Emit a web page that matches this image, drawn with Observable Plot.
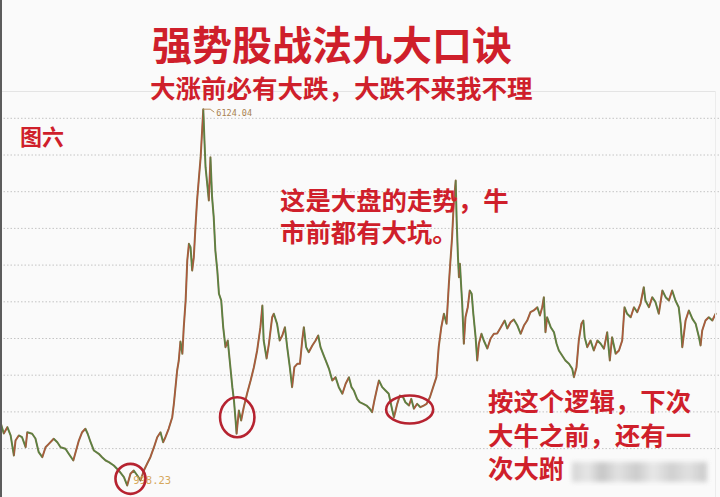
<!DOCTYPE html>
<html><head><meta charset="utf-8">
<script src="https://cdn.jsdelivr.net/npm/d3@7"></script>
<script src="https://cdn.jsdelivr.net/npm/@observablehq/plot@0.6"></script>
<style>
html,body{margin:0;padding:0;background:#fafafa;}
#wrap{position:relative;width:720px;height:497px;overflow:hidden;background:#fafafa;font-family:"Noto Sans CJK SC","Noto Sans",sans-serif;}
#chart{position:absolute;left:0;top:0;}
.t{position:absolute;color:#cf1f2b;font-weight:700;white-space:nowrap;line-height:1;}
#title{left:152px;top:23px;font-size:40px;}
#sub{left:150px;top:74px;font-size:25.5px;}
#fig{left:20px;top:124px;font-size:22px;}
#noteA{left:280px;top:183px;font-size:25.4px;line-height:32px;}
#noteB{left:488px;top:384px;font-size:25.4px;line-height:33.5px;}
#frameTop{position:absolute;left:0;top:91px;width:716px;height:0;border-top:1px solid #e4e4e4;}
#frameRight{position:absolute;left:715px;top:91px;width:0;height:406px;border-left:1px solid #ececec;}
#frameLeft{position:absolute;left:0;top:0;width:2px;height:497px;background:#5c5c5c;}
#wm{position:absolute;left:572px;top:462px;width:135px;height:20px;filter:blur(2.5px);opacity:.85;
 background:linear-gradient(90deg,#cfcfcf 0%,#e3e3e3 12%,#bdbdbd 22%,#dedede 34%,#c4c4c4 48%,#e6e6e6 60%,#c9c9c9 74%,#dddddd 86%,#c2c2c2 100%);}
</style></head><body>
<div id="wrap">
  <div id="chart"></div>
  <div id="frameTop"></div>
  <div id="frameRight"></div>
  <div id="frameLeft"></div>
  <div class="t" id="title">强势股战法九大口诀</div>
  <div class="t" id="sub">大涨前必有大跌，大跌不来我不理</div>
  <div class="t" id="fig">图六</div>
  <div class="t" id="noteA">这是大盘的走势，牛<br>市前都有大坑。</div>
  <div class="t" id="noteB">按这个逻辑，下次<br>大牛之前，还有一<br>次大跗</div>
  <div id="wm"></div>
</div>
<script>
// time (decimal year) and index level
const years = [2001.60,2001.70,2001.81,2001.91,2002.01,2002.06,2002.16,2002.26,2002.37,2002.42,2002.57,2002.67,2002.77,2002.88,2002.98,2003.08,2003.23,2003.34,2003.44,2003.59,2003.69,2003.83,2003.90,2004.00,2004.10,2004.20,2004.27,2004.36,2004.46,2004.61,2004.71,2004.82,2004.92,2005.07,2005.22,2005.38,2005.48,2005.58,2005.68,2005.79,2005.89,2005.99,2006.09,2006.19,2006.30,2006.40,2006.50,2006.58,2006.65,2006.75,2006.86,2006.91,2007.01,2007.06,2007.11,2007.17,2007.21,2007.27,2007.32,2007.37,2007.42,2007.47,2007.52,2007.57,2007.62,2007.67,2007.73,2007.78,2007.81,2007.85,2007.88,2007.93,2007.98,2008.03,2008.08,2008.13,2008.18,2008.24,2008.29,2008.36,2008.42,2008.49,2008.56,2008.64,2008.70,2008.75,2008.80,2008.83,2008.90,2008.97,2009.05,2009.16,2009.26,2009.36,2009.46,2009.56,2009.62,2009.66,2009.75,2009.82,2009.92,2009.97,2010.07,2010.15,2010.23,2010.31,2010.38,2010.46,2010.53,2010.60,2010.69,2010.77,2010.84,2010.89,2010.96,2011.04,2011.15,2011.25,2011.33,2011.40,2011.50,2011.58,2011.66,2011.76,2011.86,2011.96,2012.07,2012.17,2012.27,2012.35,2012.42,2012.52,2012.60,2012.71,2012.81,2012.91,2012.98,2013.05,2013.14,2013.19,2013.29,2013.39,2013.49,2013.60,2013.65,2013.75,2013.83,2013.93,2014.00,2014.11,2014.18,2014.26,2014.36,2014.46,2014.56,2014.65,2014.75,2014.85,2014.95,2015.02,2015.10,2015.18,2015.26,2015.33,2015.38,2015.43,2015.48,2015.54,2015.57,2015.61,2015.64,2015.67,2015.71,2015.74,2015.79,2015.84,2015.91,2015.97,2016.03,2016.08,2016.15,2016.20,2016.25,2016.33,2016.40,2016.51,2016.61,2016.71,2016.81,2016.91,2017.04,2017.12,2017.22,2017.32,2017.43,2017.53,2017.63,2017.73,2017.83,2017.93,2018.04,2018.12,2018.19,2018.24,2018.29,2018.34,2018.45,2018.55,2018.63,2018.70,2018.80,2018.90,2019.01,2019.11,2019.16,2019.24,2019.31,2019.39,2019.45,2019.49,2019.57,2019.67,2019.77,2019.88,2019.98,2020.08,2020.18,2020.26,2020.33,2020.44,2020.54,2020.64,2020.71,2020.79,2020.90,2021.00,2021.10,2021.20,2021.30,2021.35,2021.46,2021.56,2021.66,2021.76,2021.87,2021.97,2022.07,2022.17,2022.27,2022.37,2022.43,2022.48,2022.58,2022.68,2022.79,2022.89,2022.99,2023.04,2023.09,2023.19,2023.29,2023.40,2023.50];
const closes = [1860,1706,1792,1679,1406,1610,1679,1655,1519,1723,1702,1638,1451,1383,1519,1565,1634,1587,1519,1497,1429,1338,1451,1610,1723,1770,1702,1587,1474,1429,1383,1338,1315,1270,1202,1110,998,1157,1202,1134,1065,1202,1293,1383,1519,1655,1723,1587,1655,1770,1928,2114,2564,2700,2959,2792,3136,3518,4063,4290,4244,3926,4108,4516,4880,5153,5470,5879,6124,5653,5334,5108,4880,5470,4925,4653,4199,3926,3609,3518,3154,2882,2973,2609,2337,2155,1883,1702,2019,1883,2064,2264,2428,2609,2837,3154,3450,2973,2728,2928,3290,3337,3200,2973,3041,3154,2882,2609,2337,2609,2655,2655,2973,3154,2882,2813,2905,2973,3041,2882,2768,2677,2587,2428,2473,2337,2247,2383,2473,2337,2292,2178,2132,2110,2087,2042,1996,2155,2337,2428,2337,2292,2247,2019,1928,2110,2223,2200,2132,2087,2178,2042,2110,2064,2087,2110,2200,2337,2473,2882,3154,3337,3200,3736,4063,4380,4835,5153,4608,4108,3835,4018,3699,3473,2928,3290,3426,3654,3609,3337,3018,2700,2928,3064,2973,2864,3000,3064,3068,3143,3245,3136,3222,3259,3177,3064,3177,3245,3358,3382,3426,3313,3426,3563,3086,3290,3154,3086,2928,2837,2768,2700,2655,2587,2473,2609,2973,3200,3245,3018,2882,2973,2837,2973,2928,2860,3086,2700,3018,2792,2837,2973,3426,3337,3290,3426,3358,3473,3699,3518,3426,3563,3495,3337,3654,3563,3518,3654,3518,3426,3200,2882,3245,3382,3268,3200,3018,2905,3109,3245,3290,3245,3337];
const gridValues = [1500,2000,2500,3000,3500,4000,4500,5000,5500,6000];
const extremeLabels = ["6124.04","998.23"];
// circled bottoms (centre time, centre level)
const circleYears = [2005.58, 2008.85, 2014.13];
const circleLevels = [1088, 1928, 2033];

const data = years.map((t,i)=>({t, v: closes[i]}));
const segs = data.slice(1).map((d,i)=>({t1:data[i].t, v1:data[i].v, t2:d.t, v2:d.v, c: d.v>=data[i].v ? "#c4473a" : "#3d8c45"}));
const peak = data.reduce((a,b)=>b.v>a.v?b:a);
const low = data.reduce((a,b)=>b.v<a.v?b:a);
const circles = circleYears.map((t,i)=>({t, v: circleLevels[i]}));

const ellipse = (ax, ay) => ({draw(ctx, size){
  const r = Math.sqrt(size/Math.PI), rx = r*ax, ry = r*ay, k = 0.5523;
  ctx.moveTo(rx,0);
  ctx.bezierCurveTo(rx, ry*k, rx*k, ry, 0, ry);
  ctx.bezierCurveTo(-rx*k, ry, -rx, ry*k, -rx, 0);
  ctx.bezierCurveTo(-rx, -ry*k, -rx*k, -ry, 0, -ry);
  ctx.bezierCurveTo(rx*k, -ry, rx, -ry*k, rx, 0);
  ctx.closePath();
}});
const leader = {draw(ctx){ ctx.moveTo(0,0); ctx.lineTo(7,0); ctx.lineTo(11,3); }};
const ringStyle = {x:"t", y:"v", fill:"none", stroke:"#b62330", strokeWidth:2.6};

const chart = Plot.plot({
  width:720, height:497, margin:0,
  x:{domain:[2001.6, 2023.65], axis:null},
  y:{domain:[833.8, 7604.9], axis:null},
  color:{type:"identity"},
  style:{background:"transparent", overflow:"visible"},
  marks:[
    Plot.ruleY(gridValues, {stroke:"#c4c4c4", strokeDasharray:"1.5,2", strokeWidth:1}),
    Plot.line(data, {x:"t", y:"v", stroke:"#857645", strokeWidth:2}),
    Plot.link(segs, {x1:"t1", y1:"v1", x2:"t2", y2:"v2", stroke:"c", strokeWidth:1.2, strokeOpacity:0.7}),
    Plot.dot([peak], {x:"t", y:"v", symbol:leader, r:3, fill:"none", stroke:"#b58d5a", strokeWidth:1}),
    Plot.text([peak], {x:"t", y:"v", text:()=>extremeLabels[0], dx:13, dy:4, textAnchor:"start", fontSize:8.5, fontFamily:"DejaVu Sans Mono", fill:"#a98250"}),
    Plot.text([low], {x:"t", y:"v", text:()=>extremeLabels[1], dx:6, dy:-5, textAnchor:"start", fontSize:10.5, fontFamily:"DejaVu Sans Mono", fill:"#d6a85c"}),
    Plot.dot([circles[0]], {...ringStyle, r:15, symbol:ellipse(1,1)}),
    Plot.dot([circles[1]], {...ringStyle, r:20, symbol:ellipse(0.86,1)}),
    Plot.dot([circles[2]], {...ringStyle, r:14, symbol:ellipse(1.68,1)})
  ]
});
document.getElementById("chart").appendChild(chart);
</script>
</body></html>
